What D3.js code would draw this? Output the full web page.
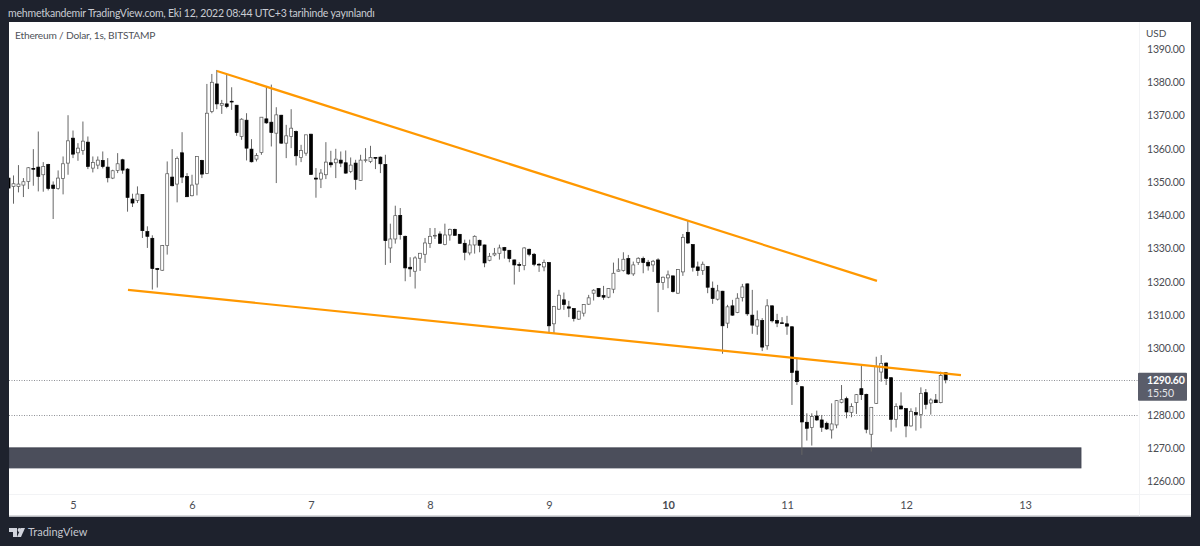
<!DOCTYPE html>
<html><head><meta charset="utf-8">
<script src="https://cdn.jsdelivr.net/npm/d3@7"></script>
<style>
html,body{margin:0;padding:0;background:#1e222d;overflow:hidden}
svg{display:block}
text{font-family:"Lato",sans-serif}
</style></head><body><div id="c"></div>
<script>
const opens=[1351.2,1348.7,1348.7,1349.1,1350.2,1354.1,1354.5,1352.2,1355.3,1349.1,
1348.1,1351.1,1355.7,1363.2,1358.8,1359.5,1362.0,1354.2,1355.1,1356.5,
1354.5,1351.2,1353.5,1356.7,1353.9,1344.9,1344.5,1346.3,1335.1,1333.1,
1324.0,1323.5,1330.9,1351.5,1349.4,1358.8,1351.7,1345.9,1349.4,1356.5,
1352.6,1371.2,1379.5,1373.1,1373.5,1374.3,1373.1,1363.7,1368.6,1359.9,
1356.9,1358.9,1369.0,1368.0,1364.7,1370.1,1361.7,1363.7,1365.2,1357.4,
1358.7,1364.4,1351.2,1350.9,1352.2,1355.8,1355.8,1356.6,1355.8,1353.2,
1355.7,1350.5,1356.5,1356.2,1357.4,1357.5,1355.3,1330.2,1332.9,1340.0,
1333.7,1324.4,1323.2,1327.1,1328.3,1331.5,1333.8,1334.4,1331.2,1334.1,
1335.8,1334.3,1331.6,1328.7,1331.1,1332.5,1331.1,1326.5,1328.1,1328.6,
1330.3,1329.5,1326.6,1325.2,1324.9,1329.8,1328.3,1325.3,1324.5,1325.8,
1307.4,1311.8,1314.6,1312.5,1312.0,1308.8,1310.6,1313.3,1316.6,1318.0,
1315.9,1315.4,1317.8,1323.2,1323.4,1327.0,1322.4,1325.8,1327.0,1325.9,
1325.1,1326.6,1319.8,1321.2,1321.8,1316.6,1323.0,1334.9,1331.2,1324.5,
1323.4,1324.6,1318.1,1314.8,1317.2,1307.6,1312.8,1310.8,1315.3,1319.4,
1310.0,1306.7,1308.4,1300.8,1312.8,1308.4,1307.7,1307.4,1306.5,1293.2,
1288.5,1277.8,1276.2,1279.7,1278.5,1277.5,1275.5,1277.0,1283.8,1284.9,
1280.8,1283.7,1287.9,1286.2,1274.2,1283.5,1292.9,1295.6,1291.2,1278.7,
1282.7,1281.9,1276.7,1280.7,1280.1,1286.7,1283.6,1284.5,1283.7,1292.7];
const closes=[1348.2,1349.5,1349.4,1350.1,1354.3,1353.9,1351.7,1354.7,1348.1,1348.1,
1351.2,1355.5,1362.4,1358.4,1360.2,1362.3,1354.7,1355.9,1356.6,1354.7,
1351.3,1353.4,1355.5,1353.6,1345.4,1343.7,1346.4,1335.4,1333.7,1324.0,
1323.7,1330.9,1352.5,1348.9,1357.1,1351.5,1345.6,1349.1,1357.7,1352.4,
1370.7,1380.0,1373.5,1373.6,1372.7,1374.1,1364.9,1368.9,1360.2,1356.1,
1358.0,1369.5,1367.8,1364.9,1370.2,1361.7,1363.9,1366.2,1357.9,1359.5,
1364.2,1352.3,1350.9,1352.7,1356.0,1355.2,1356.9,1355.7,1352.7,1355.1,
1350.8,1356.6,1356.7,1357.4,1357.2,1355.5,1332.4,1332.9,1339.9,1334.2,
1324.2,1323.9,1327.2,1328.6,1331.7,1333.7,1334.0,1331.6,1334.1,1335.8,
1334.0,1331.6,1328.9,1331.1,1333.7,1331.0,1325.7,1327.7,1328.6,1330.2,
1329.5,1327.0,1325.1,1325.0,1330.2,1328.3,1325.3,1325.1,1325.8,1306.8,
1312.6,1316.0,1313.2,1312.1,1309.0,1311.2,1313.2,1315.2,1317.5,1315.6,
1315.4,1318.0,1322.6,1323.6,1326.8,1322.4,1325.1,1327.1,1325.8,1324.8,
1326.2,1319.8,1321.4,1322.1,1317.1,1323.7,1333.4,1331.7,1324.4,1323.4,
1325.3,1318.4,1315.0,1317.3,1306.8,1312.5,1310.0,1315.1,1318.5,1310.4,
1307.0,1308.6,1300.4,1312.8,1308.3,1307.6,1307.5,1306.7,1292.8,1290.0,
1277.9,1276.0,1279.5,1278.5,1276.3,1275.8,1277.3,1284.3,1284.6,1280.9,
1282.5,1286.1,1286.1,1275.7,1282.3,1294.5,1295.5,1291.0,1278.7,1282.5,
1281.8,1276.7,1281.1,1280.1,1286.5,1283.2,1284.5,1283.7,1291.9,1290.6];
const highs=[1360.2,1352.0,1355.1,1351.2,1354.5,1359.9,1365.2,1356.0,1355.5,1350.2,
1353.5,1357.7,1370.1,1365.5,1361.7,1368.2,1363.7,1357.7,1357.7,1359.2,
1357.2,1353.7,1358.7,1357.0,1354.2,1346.5,1348.7,1346.4,1336.7,1334.0,
1324.2,1331.1,1356.2,1359.9,1357.7,1365.0,1352.7,1352.2,1357.7,1356.7,
1379.5,1382.5,1383.7,1374.7,1382.2,1378.5,1373.2,1369.2,1370.7,1362.9,
1358.7,1369.5,1378.7,1379.3,1372.5,1370.2,1367.2,1371.9,1365.5,1361.2,
1364.2,1364.5,1354.2,1353.9,1362.0,1359.4,1360.0,1359.2,1359.5,1357.4,
1356.7,1358.2,1360.2,1360.9,1357.5,1357.7,1358.2,1337.5,1342.9,1342.2,
1333.9,1327.4,1327.7,1328.7,1333.2,1336.2,1336.2,1335.2,1337.5,1336.0,
1336.0,1334.4,1332.7,1332.7,1334.0,1332.7,1331.2,1328.7,1330.2,1331.2,
1330.5,1329.6,1326.7,1325.9,1330.4,1330.0,1328.7,1325.7,1326.7,1326.0,
1312.8,1317.6,1316.8,1314.3,1312.1,1311.3,1313.3,1316.1,1317.8,1318.1,
1318.8,1318.1,1325.8,1327.1,1328.9,1328.1,1326.1,1327.4,1327.6,1326.6,
1326.6,1327.1,1321.6,1323.4,1321.9,1323.8,1334.4,1338.4,1331.3,1326.1,
1326.1,1324.7,1320.1,1319.1,1317.3,1313.1,1314.6,1316.6,1319.4,1319.5,
1317.6,1311.4,1309.1,1314.8,1312.9,1310.4,1309.4,1309.8,1306.7,1297.2,
1288.6,1280.5,1280.5,1281.3,1280.0,1278.0,1283.5,1284.5,1289.0,1285.5,
1283.5,1286.3,1294.8,1286.4,1282.3,1297.5,1298.0,1295.8,1291.3,1283.5,
1286.8,1282.0,1282.0,1282.3,1288.3,1287.8,1285.0,1286.3,1293.0,1292.8];
const lows=[1346.7,1343.5,1346.9,1345.5,1347.9,1348.9,1347.2,1347.1,1347.5,1338.9,
1347.7,1346.3,1352.2,1357.2,1356.4,1358.2,1353.9,1352.9,1353.9,1354.1,
1349.9,1350.9,1352.7,1352.5,1341.1,1342.5,1343.7,1333.2,1330.2,1317.7,
1318.3,1323.3,1328.2,1348.7,1343.9,1349.7,1345.5,1345.7,1346.0,1351.2,
1352.4,1370.7,1371.9,1370.5,1372.2,1371.7,1363.9,1362.7,1356.5,1355.9,
1356.2,1358.2,1367.5,1360.7,1349.7,1361.5,1357.2,1360.2,1355.0,1356.0,
1357.9,1352.2,1345.3,1348.2,1350.9,1354.4,1351.2,1354.5,1352.5,1352.7,
1347.7,1350.4,1355.9,1355.7,1353.9,1352.7,1325.1,1325.7,1331.5,1332.7,
1320.2,1321.5,1318.0,1323.3,1325.7,1330.2,1332.9,1331.5,1331.0,1332.4,
1333.9,1331.4,1326.5,1328.0,1328.5,1328.9,1324.4,1326.2,1327.7,1326.7,
1327.0,1325.9,1319.2,1323.0,1323.5,1327.7,1324.7,1323.0,1323.2,1304.8,
1304.4,1311.6,1311.6,1309.4,1308.1,1308.6,1309.6,1313.1,1314.4,1315.4,
1314.6,1315.1,1316.6,1323.1,1323.1,1322.1,1321.8,1325.1,1322.6,1323.4,
1323.0,1310.9,1317.6,1318.1,1316.8,1316.4,1321.8,1331.4,1323.1,1321.8,
1322.1,1316.6,1313.4,1314.4,1298.4,1306.1,1309.8,1310.6,1314.1,1309.8,
1304.4,1304.1,1299.2,1299.6,1307.8,1306.4,1307.4,1304.1,1283.0,1289.0,
1268.0,1272.3,1270.8,1278.2,1274.9,1275.5,1272.9,1276.0,1283.5,1279.0,
1279.3,1280.3,1284.5,1274.5,1269.0,1283.3,1290.0,1289.0,1275.0,1276.2,
1281.7,1273.3,1276.5,1275.3,1276.0,1281.7,1280.1,1283.6,1283.5,1289.5];

const firstCandleDay = 5 - 13/24;
const candlesPerDay = 24;
const dayTicks = [5,6,7,8,9,10,11,12,13];
const priceTicks = [1260,1270,1280,1290,1300,1310,1320,1330,1340,1350,1360,1370,1380,1390];
const upperTrend = [[6.21,1383.4],[11.756,1320.3]];
const lowerTrend = [[5.462,1317.6],[12.462,1292.0]];
const supportZone = {toDay:13.47, top:1270.1, bottom:1264.1};
const levelLines = [1290.6,1280];
const lastPrice = "1290.60", countdown = "15:50";
const headerText = "mehmetkandemir TradingView.com, Eki 12, 2022 08:44 UTC+3 tarihinde yayınlandı";
const symbolText = "Ethereum / Dolar, 1s, BITSTAMP";
const currencyText = "USD";
const brandText = "TradingView";

const W=1200,H=546, L=9,R=1191,T=22,B=516, PR=1139, TB=494;
const x=d3.scaleLinear().domain([5,13]).range([73,1025]);
const y=d3.scaleLinear().domain([1260,1390]).range([481.5,49]);

const svg=d3.select("#c").append("svg").attr("width",W).attr("height",H);
svg.append("rect").attr("width",W).attr("height",H).attr("fill","#1e222d");
svg.append("rect").attr("x",L).attr("y",T).attr("width",R-L).attr("height",B-T).attr("fill","#fff");
svg.append("rect").attr("x",L).attr("y",B-0.5).attr("width",R-L).attr("height",1.5).attr("fill","#b4b6bb");
svg.append("line").attr("x1",PR+.5).attr("x2",PR+.5).attr("y1",T).attr("y2",B).attr("stroke","#f2f3f5");
svg.append("line").attr("x1",L).attr("x2",R).attr("y1",TB+.5).attr("y2",TB+.5).attr("stroke","#f2f3f5");

const defs=svg.append("defs");
defs.append("clipPath").attr("id","plot").append("rect").attr("x",L).attr("y",T).attr("width",PR-L).attr("height",TB-T);
const plot=svg.append("g").attr("clip-path","url(#plot)");

plot.selectAll("line.level").data(levelLines).join("line").attr("class","level")
 .attr("x1",L).attr("x2",PR).attr("y1",d=>Math.round(y(d))+.5).attr("y2",d=>Math.round(y(d))+.5)
 .attr("stroke","#8f9197").attr("stroke-width",1).attr("stroke-dasharray","1 1.5");

plot.append("rect").attr("x",L).attr("y",y(supportZone.top)).attr("width",x(supportZone.toDay)-L)
 .attr("height",y(supportZone.bottom)-y(supportZone.top)).attr("fill","#4b4e5b").attr("stroke","#3f4250").attr("stroke-width",1);

const cx=i=>x(firstCandleDay+i/candlesPerDay);
const candles=plot.selectAll("g.c").data(d3.range(opens.length)).join("g").attr("class","c");
candles.append("line").attr("x1",i=>cx(i)).attr("x2",i=>cx(i)).attr("y1",i=>y(highs[i])).attr("y2",i=>y(lows[i]))
 .attr("stroke","#666").attr("stroke-width",1);
candles.append("rect")
 .attr("x",i=>cx(i)-1.5).attr("width",3)
 .attr("y",i=>y(Math.max(opens[i],closes[i])))
 .attr("height",i=>Math.max(Math.abs(y(opens[i])-y(closes[i])),0.8))
 .attr("fill",i=>closes[i]>=opens[i]?"#fff":"#000")
 .attr("stroke",i=>closes[i]>=opens[i]?"#555":"#000").attr("stroke-width",.7);

const tl=d3.line().x(d=>x(d[0])).y(d=>y(d[1]));
plot.selectAll("path.t").data([upperTrend,lowerTrend]).join("path").attr("class","t")
 .attr("d",tl).attr("fill","none").attr("stroke","#ff9800").attr("stroke-width",2.2);

const ax=svg.append("g").attr("transform",`translate(0,${TB})`)
 .call(d3.axisBottom(x).tickValues(dayTicks).tickSize(0).tickPadding(7).tickFormat(d3.format("d")));
ax.select(".domain").remove();
ax.selectAll("text").attr("font-size",11).attr("fill","#4a4c52").attr("font-weight",d=>d===10?700:400)
 .style("font-family",'"Lato",sans-serif');

const ay=svg.append("g").attr("transform",`translate(${PR},0)`)
 .call(d3.axisRight(y).tickValues(priceTicks).tickSize(0).tickPadding(8).tickFormat(d3.format(".2f")));
ay.select(".domain").remove();
ay.selectAll("text").attr("font-size",10.5).attr("fill","#4a4c52").style("letter-spacing","-0.2px").style("font-family",'"Lato",sans-serif');

svg.append("rect").attr("x",PR-1).attr("y",y(1290.6)-7).attr("width",49).attr("height",28).attr("rx",1).attr("fill","#5a5d6a");
svg.append("text").attr("x",PR+8).attr("y",y(1290.6)+4).attr("font-size",10.5).attr("font-weight",700).attr("fill","#fff").style("letter-spacing","-0.2px").text(lastPrice);
svg.append("text").attr("x",PR+8).attr("y",y(1290.6)+17).attr("font-size",10.5).attr("fill","#e4e5e8").text(countdown);

svg.append("text").attr("x",8).attr("y",17).attr("font-size",10.5).attr("fill","#c9ccd3").style("letter-spacing","-0.2px").text(headerText);
svg.append("text").attr("x",15).attr("y",39).attr("font-size",10.2).attr("fill","#50535a").style("letter-spacing","-0.2px").text(symbolText);
svg.append("text").attr("x",1146).attr("y",37).attr("font-size",10).attr("fill","#4a4c52").text(currencyText);
svg.append("text").attr("x",28).attr("y",536).attr("font-size",11).attr("fill","#c4c7ce").text(brandText);
const logo=svg.append("g").attr("fill","#d1d4dc");
logo.append("path").attr("d","M9 528H17V537H13V532H9Z");
logo.append("circle").attr("cx",19.5).attr("cy",530).attr("r",1.9);
logo.append("path").attr("d","M21 528H25L21 537H17Z");
</script></body></html>
